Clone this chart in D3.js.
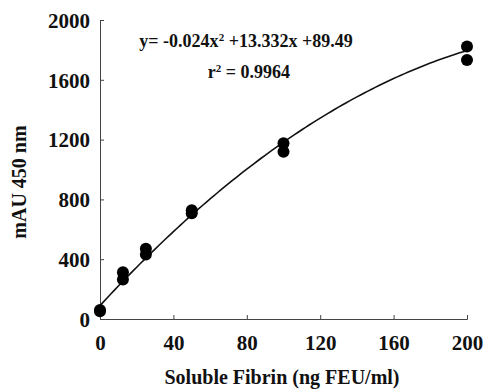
<!DOCTYPE html>
<html>
<head>
<meta charset="utf-8">
<script src="https://cdn.jsdelivr.net/npm/d3@7"></script>
<style>
	body { margin: 0; background: #fff; }
	text { font-family: 'Liberation Serif', 'DejaVu Serif', serif; font-weight: bold; fill: #111; }
</style>
</head>
<body>
<div id="chart"></div>
<script>
// measured points (duplicate wells)
const fibrin = [0, 0, 12.5, 12.5, 25, 25, 50, 50, 100, 100, 200, 200]
const mau = [60, 52, 312, 265, 470, 432, 728, 708, 1175, 1118, 1822, 1732]

// fitted quadratic
const coef = [-0.024, 13.332, 89.49]

const xTicks = [0, 40, 80, 120, 160, 200]
const yTicks = [0, 400, 800, 1200, 1600, 2000]

let width = 484
let height = 390
let margin = { left: 100, right: 17, top: 20, bottom: 71 }

const svg = d3.select('#chart').append('svg')
	.attr('width', width)
	.attr('height', height)

const x = d3.scaleLinear()
	.domain([0, 200])
	.range([margin.left, width - margin.right])

const y = d3.scaleLinear()
	.domain([0, 2000])
	.range([height - margin.bottom, margin.top])

// axes, ticks pointing inwards
const xAxis = svg.append('g')
	.attr('transform', `translate(0,${y(0)})`)
	.call(d3.axisBottom(x).tickValues(xTicks).tickFormat(d3.format('d'))
		.tickSizeInner(-4).tickSizeOuter(-4).tickPadding(16))

const yAxis = svg.append('g')
	.attr('transform', `translate(${x(0)},0)`)
	.call(d3.axisLeft(y).tickValues(yTicks).tickFormat(d3.format('d'))
		.tickSizeInner(-4).tickSizeOuter(-4).tickPadding(10))

svg.selectAll('.domain, .tick line')
	.attr('stroke', '#444')
	.attr('stroke-width', 1)

svg.selectAll('.tick text')
	.style('font-size', '21px')
	.style('font-family', "'Liberation Serif', serif")
	.style('font-weight', 'bold')
	.attr('fill', '#111')

yAxis.selectAll('.tick text').attr('dy', '0.35em')

// fitted curve
const curveData = d3.range(0, 201, 2).map(v => [v, coef[0] * v * v + coef[1] * v + coef[2]])
svg.append('path')
	.datum(curveData)
	.attr('fill', 'none')
	.attr('stroke', '#111')
	.attr('stroke-width', 1.6)
	.attr('d', d3.line().x(d => x(d[0])).y(d => y(d[1])))

// points
svg.selectAll('circle')
	.data(fibrin.map((f, i) => ({ f: f, v: mau[i] })))
	.enter()
	.append('circle')
	.attr('cx', d => x(d.f))
	.attr('cy', d => y(d.v))
	.attr('r', 6)
	.attr('fill', '#000')

// equation
const eq = svg.append('text')
	.attr('x', 246)
	.attr('y', 47)
	.attr('text-anchor', 'middle')
	.style('font-size', '18px')
eq.append('tspan').text('y= -0.024x')
eq.append('tspan').text('2').attr('dy', -6).style('font-size', '11px')
eq.append('tspan').text(' +13.332x +89.49').attr('dy', 6)

const r2 = svg.append('text')
	.attr('x', 249)
	.attr('y', 78)
	.attr('text-anchor', 'middle')
	.style('font-size', '18px')
r2.append('tspan').text('r')
r2.append('tspan').text('2').attr('dy', -6).style('font-size', '11px')
r2.append('tspan').text(' = 0.9964').attr('dy', 6)

// axis titles
svg.append('text')
	.attr('x', 282)
	.attr('y', 384)
	.attr('text-anchor', 'middle')
	.style('font-size', '20px')
	.text('Soluble Fibrin (ng FEU/ml)')

svg.append('text')
	.attr('transform', 'translate(26,182) rotate(-90)')
	.attr('text-anchor', 'middle')
	.style('font-size', '20px')
	.text('mAU 450 nm')
</script>
</body>
</html>
